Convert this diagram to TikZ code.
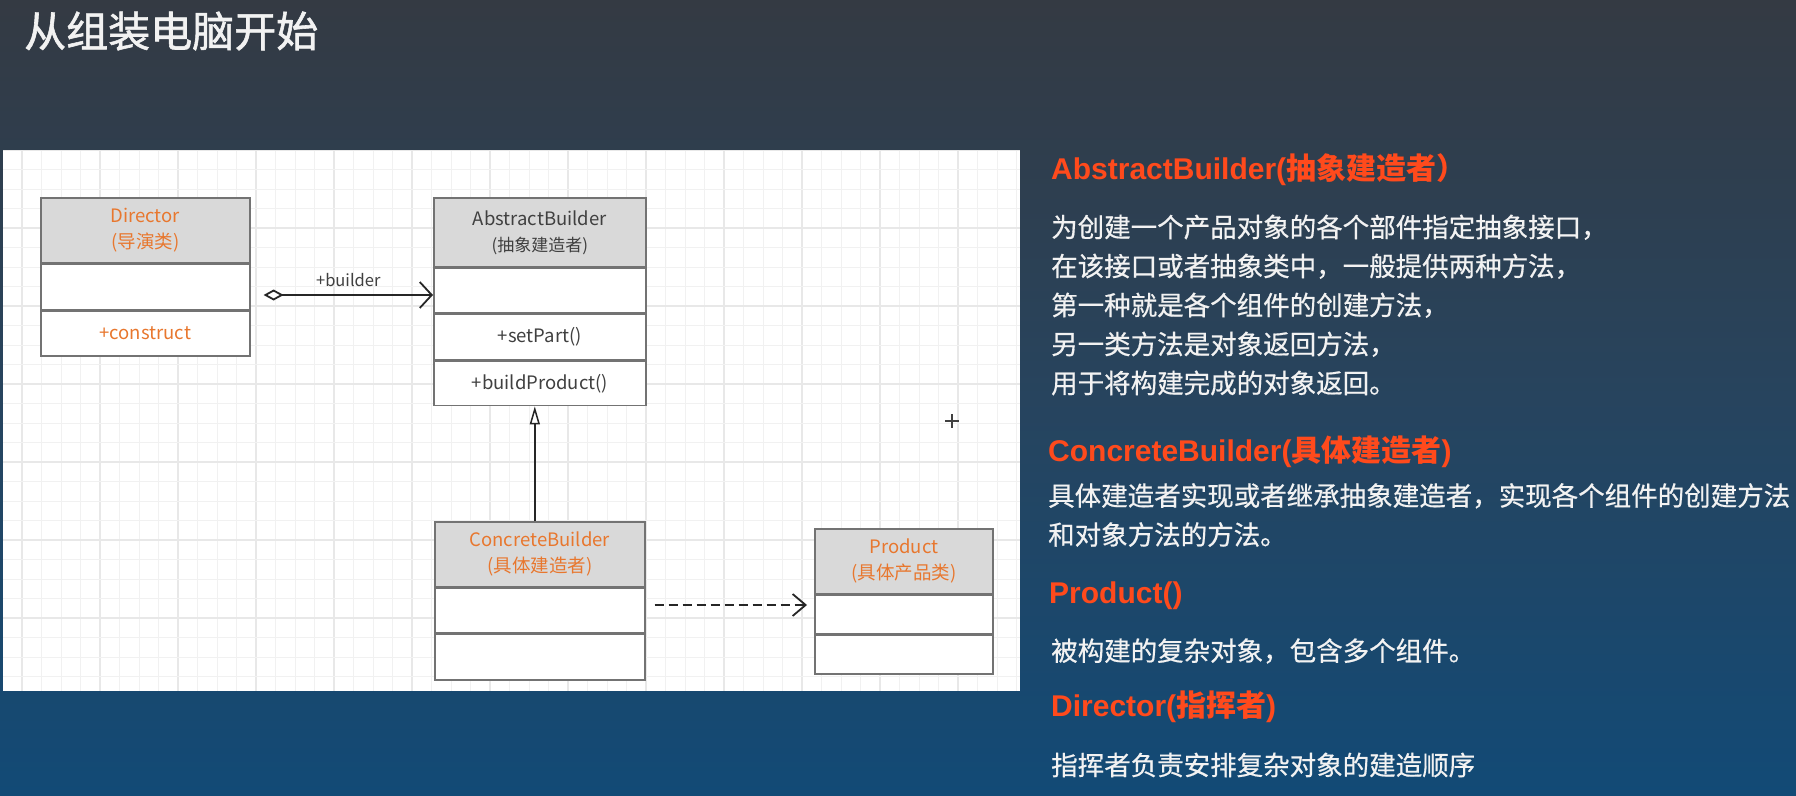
\documentclass[tikz,border=0pt]{standalone}
\usepackage{fontspec}
\setmainfont{Liberation Sans}
\newfontfamily\cjk{Noto Sans CJK SC}
\newfontfamily\cjkmed{Noto Sans CJK SC}[FakeBold=0.6]
\newfontfamily\cjktitle{Noto Sans CJK SC}[FakeBold=1.4]
\usetikzlibrary{arrows.meta}

\definecolor{bgtop}{HTML}{343A43}
\definecolor{bgmid}{HTML}{27445E}
\definecolor{bgbot}{HTML}{124A76}
\definecolor{gridminor}{HTML}{F1F1F1}
\definecolor{gridmajor}{HTML}{E8E8E8}
\definecolor{boxline}{HTML}{737373}
\definecolor{hdrgray}{HTML}{D9D9D9}
\definecolor{umlorange}{HTML}{E8772E}
\definecolor{umltext}{HTML}{404040}
\definecolor{headred}{HTML}{FF4A1C}
\definecolor{bodywhite}{HTML}{F2F2F2}

\begin{document}
\begin{tikzpicture}[x=1pt,y=-1pt,
  umlhead/.style={draw=boxline, line width=1.6pt, fill=hdrgray, inner sep=0pt,
    anchor=north west, align=center, font=\cjk\fontsize{18.5}{26}\selectfont},
  umlcell/.style={draw=boxline, line width=1.6pt, fill=white, inner sep=0pt,
    anchor=north west, font=\cjk\fontsize{18.5}{22}\selectfont, text=umltext},
  conn/.style={draw=black!85, line width=1.8pt},
  agg/.style={conn, {Diamond[open, length=20pt, width=11pt, fill=white]}-{Straight Barb[length=12pt, width=26pt]}},
  inh/.style={conn, line width=1.5pt, -{Triangle[open, length=18pt, width=10pt, fill=white]}},
  dep/.style={conn, dash pattern=on 9pt off 5pt, -{Straight Barb[length=13pt, width=22pt]}},
  heading/.style={anchor=west, inner sep=0pt, text=headred, font=\bfseries\fontsize{30}{36}\selectfont},
  body/.style={anchor=west, inner sep=0pt, text=bodywhite, align=left, font=\cjkmed\fontsize{26.5}{39}\selectfont}
]
\useasboundingbox (0,0) rectangle (1796,795);

% slide background
\shade[top color=bgtop, bottom color=bgbot, middle color=bgmid] (0,0) rectangle (1796,795);

% title
\node[anchor=west, inner sep=0pt, text=bodywhite, font=\cjktitle\fontsize{42}{50}\selectfont] (title) at (24,31) {从组装电脑开始};

% white drawing canvas with grid
\fill[white] (3,150) rectangle (1020,691);
\begin{scope}
  \clip (3,150) rectangle (1020,691);
  \foreach \i in {-1,...,52} {
    \pgfmathtruncatemacro{\m}{mod(\i+4,4)}
    \ifnum\m=0
      \draw[gridmajor, line width=1.2pt] ({22+19.5*\i},150) -- ({22+19.5*\i},691);
    \else
      \draw[gridminor, line width=1pt] ({22+19.5*\i},150) -- ({22+19.5*\i},691);
    \fi
  }
  \foreach \j in {0,...,28} {
    \pgfmathtruncatemacro{\m}{mod(\j,4)}
    \ifnum\m=0
      \draw[gridmajor, line width=1.2pt] (3,{150+19.5*\j}) -- (1020,{150+19.5*\j});
    \else
      \draw[gridminor, line width=1pt] (3,{150+19.5*\j}) -- (1020,{150+19.5*\j});
    \fi
  }
\end{scope}

% Director class
\node[umlhead, minimum width=209pt, minimum height=65pt, text=umlorange] (dir) at (40,197) {Director\\(导演类)};
\node[umlcell, minimum width=209pt, minimum height=45pt] (dir1) at (dir.south west) {};
\node[umlcell, minimum width=209pt, minimum height=45pt, text=umlorange] (dir2) at (dir1.south west) {+construct};

% AbstractBuilder class
\node[umlhead, minimum width=212pt, minimum height=69pt, text=umltext] (ab) at (433,197) {AbstractBuilder\\{\fontsize{17}{22}\selectfont(抽象建造者)}};
\node[umlcell, minimum width=212pt, minimum height=44pt] (ab1) at (ab.south west) {};
\node[umlcell, minimum width=212pt, minimum height=46pt] (ab2) at (ab1.south west) {+setPart()};
\node[umlcell, minimum width=212pt, minimum height=44pt] (ab3) at (ab2.south west) {+buildProduct()};

% ConcreteBuilder class
\node[umlhead, minimum width=210pt, minimum height=65pt, text=umlorange] (cb) at (434,521) {ConcreteBuilder\\(具体建造者)};
\node[umlcell, minimum width=210pt, minimum height=44pt] (cb1) at (cb.south west) {};
\node[umlcell, minimum width=210pt, minimum height=46pt] (cb2) at (cb1.south west) {};

% Product class
\node[umlhead, minimum width=178pt, minimum height=65pt, text=umlorange] (prod) at (814,528) {Product\\(具体产品类)};
\node[umlcell, minimum width=178pt, minimum height=38pt] (prod1) at (prod.south west) {};
\node[umlcell, minimum width=178pt, minimum height=39pt] (prod2) at (prod1.south west) {};

% relations
\draw[agg] ([xshift=13pt,yshift=-98pt]dir.north east) -- ([yshift=-98pt]ab.north west)
  node[midway, above=4pt, text=umltext, font=\cjk\fontsize{16.5}{20}\selectfont] (aggl) {+builder};
\draw[inh] ([xshift=-5pt]cb.north) -- ([xshift=-5pt]ab3.south);
\draw[dep] ([xshift=9pt,yshift=-84pt]cb.north east) -- ([xshift=-7pt,yshift=-77pt]prod.north west);

% cursor mark on the canvas
\draw[black!75, line width=1.3pt] (945,421) -- (959,421) (952,414) -- (952,428);

% explanations
\node[heading] (h1) at (1051,170) {AbstractBuilder({\cjk 抽象建造者）}};
\node[body] (b1) at (1051,305) {为创建一个产品对象的各个部件指定抽象接口，\\在该接口或者抽象类中，一般提供两种方法，\\第一种就是各个组件的创建方法，\\另一类方法是对象返回方法，\\用于将构建完成的对象返回。};

\node[heading] (h2) at (1048,452) {ConcreteBuilder({\cjk 具体建造者})};
\node[body] (b2) at (1048,515) {具体建造者实现或者继承抽象建造者，实现各个组件的创建方法\\和对象方法的方法。};

\node[heading] (h3) at (1049,596) {Product()};
\node[body] (b3) at (1051,651) {被构建的复杂对象，包含多个组件。};

\node[heading] (h4) at (1051,707) {Director({\cjk 指挥者})};
\node[body] (b4) at (1051,765) {指挥者负责安排复杂对象的建造顺序};
\end{tikzpicture}
\end{document}
